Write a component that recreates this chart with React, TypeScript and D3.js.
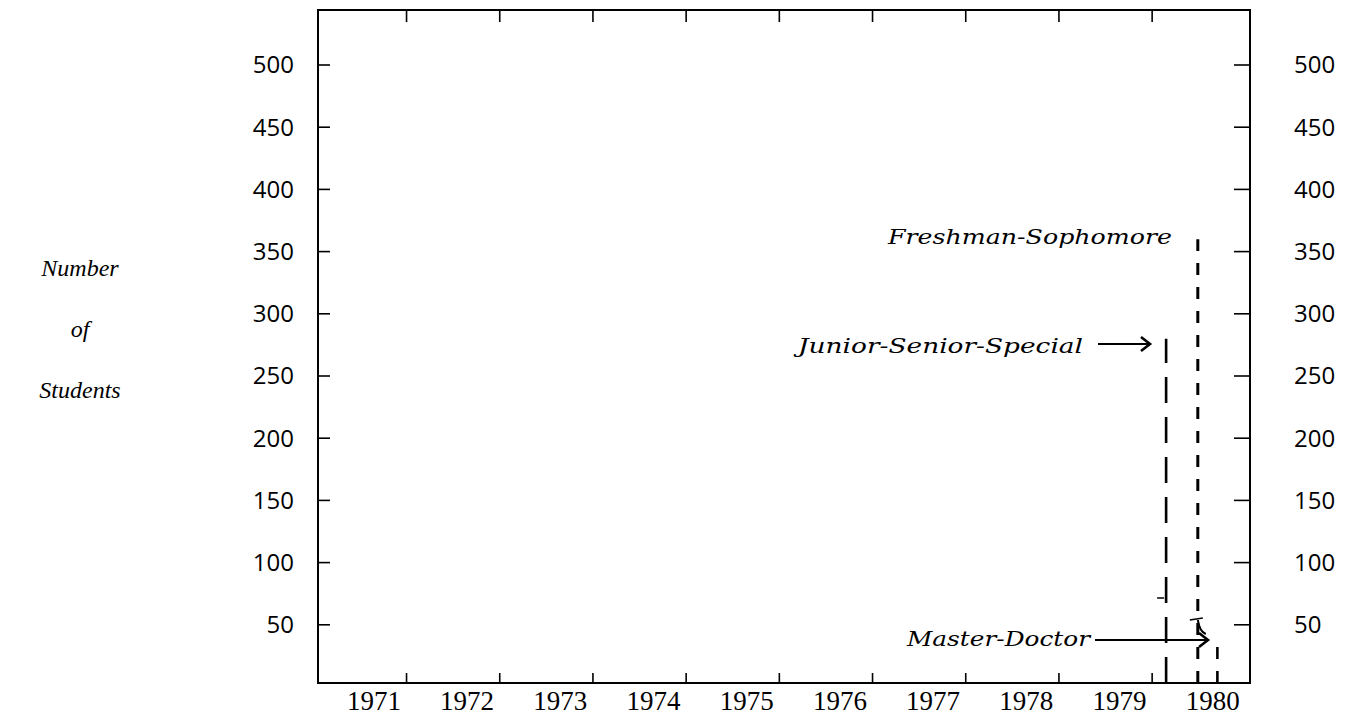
import React from "react";
import * as d3 from "d3";

// ---- data ----
const years = [1971, 1972, 1973, 1974, 1975, 1976, 1977, 1978, 1979, 1980];
const tickYears = [1971, 1972, 1973, 1974, 1975, 1976, 1977, 1978, 1979];
const yTicks = [50, 100, 150, 200, 250, 300, 350, 400, 450, 500];
const groups = ["Junior-Senior-Special", "Freshman-Sophomore", "Master-Doctor"];
const groupYear = [1979.5, 1979.84, 1980.05];
const groupStudents = [280, 360, 37];
const axisTitle = ["Number", "of", "Students"];

const W = 1362;
const H = 720;
const left = 318, right = 1250, top = 10, bottom = 683;

export default function App() {
  const x = d3.scaleLinear().domain([1970.4, 1980.4]).range([left, right]);
  const y = d3.scaleLinear().domain([0, 500]).range([687, 65]);

  const dash = ["26 14", "12 12", "12 12"];
  const sw = [2.6, 3, 2.6];
  const italic = "'DejaVu Serif', 'Liberation Serif', serif";
  const titleFont = "'Liberation Serif', 'DejaVu Serif', serif";
  const numFont = "'Open Sans', 'Noto Sans', sans-serif";
  const yearFont = "'Liberation Serif', serif";

  const arrow = (x1: number, x2: number, yy: number, key: string) => (
    <g key={key} stroke="#000" strokeWidth={2} fill="none">
      <line x1={x1} y1={yy} x2={x2} y2={yy} />
      <polyline points={`${x2 - 9},${yy - 7} ${x2},${yy} ${x2 - 9},${yy + 7}`} strokeWidth={2.6} />
    </g>
  );

  const jx = x(groupYear[0]);
  const fx = x(groupYear[1]);

  return (
    <div style={{ position: "fixed", left: 0, top: 0 }}>
      <svg width={W} height={H} style={{ display: "block", background: "#fff" }}>
        {/* frame */}
        <rect x={left} y={top} width={right - left} height={bottom - top} fill="none" stroke="#000" strokeWidth={2} />
        {/* top & bottom ticks */}
        {tickYears.map((yr) => (
          <g key={"t" + yr} stroke="#000" strokeWidth={1.6}>
            <line x1={x(yr + 0.35)} x2={x(yr + 0.35)} y1={top} y2={top + 12} />
            <line x1={x(yr + 0.35)} x2={x(yr + 0.35)} y1={bottom} y2={bottom - 10} />
          </g>
        ))}
        {/* year labels */}
        {years.map((yr) => (
          <text key={"y" + yr} x={x(yr)} y={710} textAnchor="middle" fontFamily={yearFont} fontSize={27}
            textLength={54} lengthAdjust="spacingAndGlyphs">{yr}</text>
        ))}
        {/* y ticks & labels */}
        {yTicks.map((v) => (
          <g key={"v" + v}>
            <line x1={left} x2={left + 12} y1={y(v)} y2={y(v)} stroke="#000" strokeWidth={1.6} />
            <line x1={right} x2={right - 16} y1={y(v)} y2={y(v)} stroke="#000" strokeWidth={1.6} />
            <text x={294} y={y(v)} dy="0.35em" textAnchor="end" fontFamily={numFont} fontSize={24}>{v}</text>
            <text x={1294} y={y(v)} dy="0.35em" textAnchor="start" fontFamily={numFont} fontSize={24}>{v}</text>
          </g>
        ))}
        {/* axis title */}
        {axisTitle.map((t, i) => (
          <text key={t} x={80} y={276 + i * 61} textAnchor="middle" fontFamily={titleFont} fontStyle="italic" fontSize={24}>{t}</text>
        ))}
        {/* bars */}
        {groups.map((g, i) => (
          <line key={g} x1={x(groupYear[i])} x2={x(groupYear[i])} y1={bottom} y2={y(groupStudents[i])}
            stroke="#000" strokeWidth={sw[i]} strokeDasharray={dash[i]} />
        ))}
        {/* small marks */}
        <line x1={jx - 9} x2={jx - 2} y1={598} y2={598} stroke="#000" strokeWidth={1.5} />
        <line x1={fx - 8} x2={fx + 5} y1={620} y2={618} stroke="#000" strokeWidth={1.5} />
        <path d={`M${fx},${620} Q${fx + 2},${632} ${fx + 8},${634}`} stroke="#000" strokeWidth={2} fill="none" />
        {/* annotations */}
        <text x={888} y={244} fontFamily={italic} fontStyle="italic" fontSize={21} textLength={284} lengthAdjust="spacingAndGlyphs">{groups[1]}</text>
        <text x={798} y={353} fontFamily={italic} fontStyle="italic" fontSize={21} textLength={285} lengthAdjust="spacingAndGlyphs">{groups[0]}</text>
        {arrow(1098, 1150, 344, "a1")}
        <text x={907} y={646} fontFamily={italic} fontStyle="italic" fontSize={21} textLength={183} lengthAdjust="spacingAndGlyphs">{groups[2]}</text>
        {arrow(1095, 1208, 640, "a2")}
      </svg>
    </div>
  );
}
